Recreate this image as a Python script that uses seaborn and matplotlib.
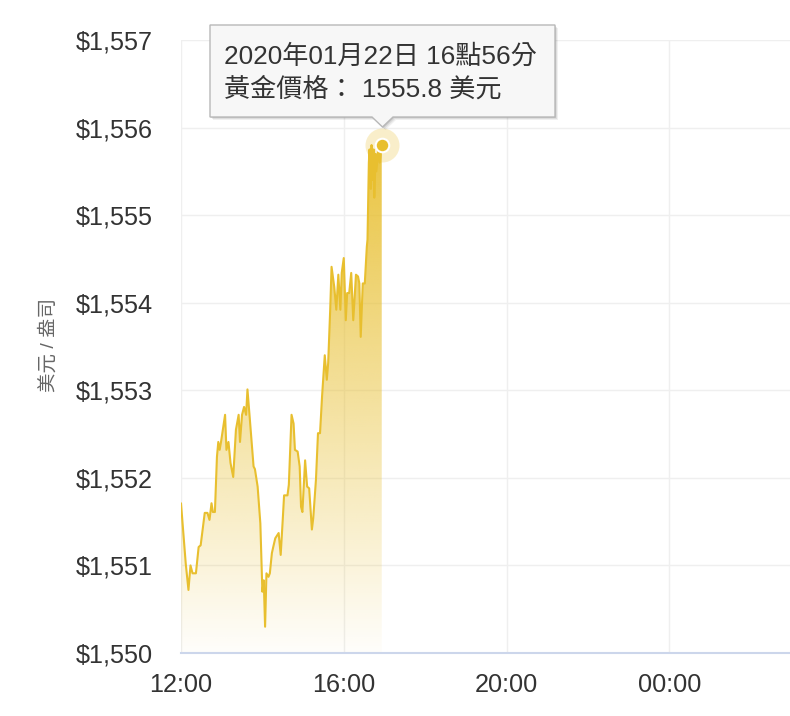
import numpy as np
import pandas as pd
import matplotlib
matplotlib.use("Agg")
import matplotlib.pyplot as plt
import seaborn as sns
from matplotlib.patches import Polygon

# minutes after 12:00 and gold price (USD / oz)
minutes = [0, 7, 11, 14, 17, 22, 26, 29, 35, 39, 42, 45, 47, 50, 53, 55,
           57, 59, 65, 67, 70, 73, 77, 81, 85, 87, 90, 93, 96, 98, 101, 107,
           109, 113, 117, 120, 122, 124, 126, 129, 131, 134, 136, 139, 144, 147,
           150, 152, 157, 159, 163, 166, 168, 172, 175, 177, 179, 183, 186, 189,
           193, 195, 199, 202, 205, 208, 212, 215, 217, 220, 222, 226, 229, 232,
           235, 237, 240, 243, 245, 248, 251, 254, 258, 261, 263, 265, 268, 271,
           274, 275, 277, 278, 280, 281, 283, 284, 285, 287, 288, 291, 293, 296]
prices = [1551.71, 1551.02, 1550.72, 1551.00, 1550.91, 1550.91, 1551.21, 1551.23,
          1551.60, 1551.60, 1551.52, 1551.71, 1551.61, 1551.61, 1552.24, 1552.41,
          1552.32, 1552.41, 1552.72, 1552.32, 1552.41, 1552.17, 1552.01, 1552.55,
          1552.72, 1552.41, 1552.72, 1552.81, 1552.72, 1553.01, 1552.72, 1552.13,
          1552.10, 1551.90, 1551.48, 1550.70, 1550.83, 1550.30, 1550.91, 1550.87,
          1550.91, 1551.14, 1551.21, 1551.31, 1551.37, 1551.12,
          1551.52, 1551.80, 1551.80, 1551.92, 1552.72, 1552.62, 1552.32, 1552.30,
          1552.13, 1551.67, 1551.61, 1552.20, 1551.90, 1551.88, 1551.41, 1551.54,
          1551.98, 1552.51, 1552.51, 1552.93, 1553.40, 1553.12, 1553.31, 1553.92,
          1554.41, 1554.18, 1553.92, 1554.32, 1553.92, 1554.34, 1554.51, 1553.80,
          1554.11, 1554.11, 1554.34, 1553.80, 1554.32, 1554.30, 1554.22, 1553.61,
          1554.22, 1554.22, 1554.64, 1554.72, 1555.60, 1555.75, 1555.30, 1555.80,
          1555.40, 1555.75, 1555.20, 1555.70, 1555.50, 1555.75, 1555.60, 1555.80]

x_ticks = [0, 240, 480, 720]
x_labels = ["12:00", "16:00", "20:00", "00:00"]
y_ticks = [1550, 1551, 1552, 1553, 1554, 1555, 1556, 1557]
y_label = "美元 / 盎司"
tip_lines = ["2020年01月22日 16點56分", "黃金價格： 1555.8 美元"]

W, H = 790, 716
line_color = "#E8BF2F"

sns.set_theme(style="white")
plt.rcParams['font.family'] = ['Liberation Sans', 'Noto Sans CJK TC', 'DejaVu Sans']


def fx(px):
    return px / W


def fy(py):
    return 1 - py / H


fig = plt.figure(figsize=(W / 100, H / 100), dpi=100)
ax = fig.add_axes([fx(181), fy(653), fx(790) - fx(181), fy(40) - fy(653)])

df = pd.DataFrame({"minute": minutes, "price": prices})

# gradient area under the line
grad = np.zeros((256, 1, 4))
grad[:, :, :3] = matplotlib.colors.to_rgb(line_color)
grad[:, 0, 3] = np.linspace(0.92, 0.02, 256)
im = ax.imshow(grad, extent=[minutes[0], minutes[-1], 1550, max(prices)],
               aspect='auto', origin='upper', zorder=1, interpolation='bicubic')
verts = [(minutes[0], 1550)] + list(zip(minutes, prices)) + [(minutes[-1], 1550)]
clip = Polygon(verts, closed=True, facecolor='none', edgecolor='none',
               transform=ax.transData)
ax.add_patch(clip)
im.set_clip_path(clip)

sns.lineplot(data=df, x="minute", y="price", color=line_color, lw=1.5,
             ax=ax, zorder=3)

# hover marker
ax.scatter([minutes[-1]], [prices[-1]], s=600, color=line_color, alpha=0.25,
           lw=0, zorder=4)
ax.scatter([minutes[-1]], [prices[-1]], s=95, color=line_color,
           edgecolor='white', lw=1.5, zorder=5)

ax.set_xlim(0, 898)
ax.set_ylim(1550, 1557)
ax.set_xticks(x_ticks)
ax.set_xticklabels(x_labels)
ax.set_yticks(y_ticks)
ax.set_yticklabels([f"${v:,}" for v in y_ticks])
ax.set_xlabel("")
ax.set_ylabel("")
ax.grid(True, color="#EFEFEF", lw=1)
ax.set_axisbelow(True)
for s in ["top", "right", "left"]:
    ax.spines[s].set_visible(False)
ax.spines["bottom"].set_color("#CCD6EB")
ax.spines["bottom"].set_linewidth(1.5)
ax.tick_params(axis='x', length=7.2, width=1, color="#CCD6EB", pad=7,
               labelsize=18.2, labelcolor="#333333")
ax.tick_params(axis='y', length=0, pad=20.5, labelsize=18.2, labelcolor="#333333")

fig.text(fx(48), fy(345), y_label, rotation=90, ha='center', va='center',
         fontsize=14, color="#666666")

# tooltip
shape = [(210, 25), (555, 25), (555, 117), (393, 117), (382.5, 127),
         (372, 117), (210, 117)]
for off, a in [(3, 0.06), (2, 0.08), (1, 0.1)]:
    fig.add_artist(Polygon([(fx(x + off), fy(y + off)) for x, y in shape],
                           closed=True, facecolor='black', alpha=a,
                           edgecolor='none', transform=fig.transFigure))
fig.add_artist(Polygon([(fx(x), fy(y)) for x, y in shape], closed=True,
                       facecolor="#F7F7F7", edgecolor="#B8B8B8", lw=1,
                       transform=fig.transFigure))
fig.text(fx(224), fy(56), tip_lines[0], ha='left', va='center',
         fontsize=18.8, color="#333333")
fig.text(fx(224), fy(89), tip_lines[1], ha='left', va='center',
         fontsize=18.8, color="#333333")

fig.savefig("out.png", dpi=100)
